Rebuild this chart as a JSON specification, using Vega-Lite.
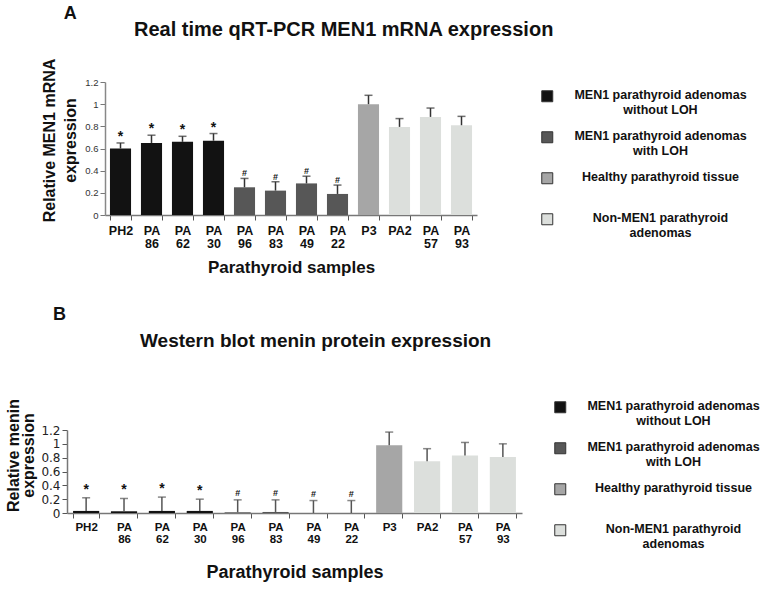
{
  "$schema": "https://vega.github.io/schema/vega-lite/v6.json",
  "background": "white",
  "padding": {"left": 5, "top": 5, "right": 5, "bottom": 5},
  "config": {
    "font": "Liberation Sans",
    "view": {"stroke": null},
    "title": {"font": "Liberation Sans", "fontWeight": "bold", "color": "#111"},
    "axisY": {"labelOverlap": false, "grid": false},
    "axisQuantitative": {"labelOverlap": false}
  },
  "datasets": {
    "mrna": [
      {"sample": "PH2", "group": "MEN1 parathyroid adenomas without LOH", "value": 0.6, "upper": 0.65, "sig": "*"},
      {"sample": "PA 86", "group": "MEN1 parathyroid adenomas without LOH", "value": 0.65, "upper": 0.72, "sig": "*"},
      {"sample": "PA 62", "group": "MEN1 parathyroid adenomas without LOH", "value": 0.66, "upper": 0.71, "sig": "*"},
      {"sample": "PA 30", "group": "MEN1 parathyroid adenomas without LOH", "value": 0.67, "upper": 0.735, "sig": "*"},
      {"sample": "PA 96", "group": "MEN1 parathyroid adenomas with LOH", "value": 0.25, "upper": 0.33, "sig": "#"},
      {"sample": "PA 83", "group": "MEN1 parathyroid adenomas with LOH", "value": 0.22, "upper": 0.3, "sig": "#"},
      {"sample": "PA 49", "group": "MEN1 parathyroid adenomas with LOH", "value": 0.285, "upper": 0.35, "sig": "#"},
      {"sample": "PA 22", "group": "MEN1 parathyroid adenomas with LOH", "value": 0.19, "upper": 0.27, "sig": "#"},
      {"sample": "P3", "group": "Healthy parathyroid tissue", "value": 1.0, "upper": 1.08, "sig": ""},
      {"sample": "PA2", "group": "Non-MEN1 parathyroid adenomas", "value": 0.795, "upper": 0.87, "sig": ""},
      {"sample": "PA 57", "group": "Non-MEN1 parathyroid adenomas", "value": 0.885, "upper": 0.965, "sig": ""},
      {"sample": "PA 93", "group": "Non-MEN1 parathyroid adenomas", "value": 0.81, "upper": 0.89, "sig": ""}
    ],
    "menin": [
      {"sample": "PH2", "group": "MEN1 parathyroid adenomas without LOH", "value": 0.03, "upper": 0.22, "sig": "*"},
      {"sample": "PA 86", "group": "MEN1 parathyroid adenomas without LOH", "value": 0.025, "upper": 0.21, "sig": "*"},
      {"sample": "PA 62", "group": "MEN1 parathyroid adenomas without LOH", "value": 0.03, "upper": 0.23, "sig": "*"},
      {"sample": "PA 30", "group": "MEN1 parathyroid adenomas without LOH", "value": 0.03, "upper": 0.2, "sig": "*"},
      {"sample": "PA 96", "group": "MEN1 parathyroid adenomas with LOH", "value": 0.01, "upper": 0.19, "sig": "#"},
      {"sample": "PA 83", "group": "MEN1 parathyroid adenomas with LOH", "value": 0.015, "upper": 0.19, "sig": "#"},
      {"sample": "PA 49", "group": "MEN1 parathyroid adenomas with LOH", "value": 0.0, "upper": 0.18, "sig": "#"},
      {"sample": "PA 22", "group": "MEN1 parathyroid adenomas with LOH", "value": 0.0, "upper": 0.18, "sig": "#"},
      {"sample": "P3", "group": "Healthy parathyroid tissue", "value": 0.98, "upper": 1.17, "sig": ""},
      {"sample": "PA2", "group": "Non-MEN1 parathyroid adenomas", "value": 0.75, "upper": 0.93, "sig": ""},
      {"sample": "PA 57", "group": "Non-MEN1 parathyroid adenomas", "value": 0.83, "upper": 1.02, "sig": ""},
      {"sample": "PA 93", "group": "Non-MEN1 parathyroid adenomas", "value": 0.81, "upper": 1.0, "sig": ""}
    ]
  },
  "spacing": 30,
  "resolve": {"scale": {"color": "independent", "x": "independent", "y": "independent"}},
  "vconcat": [
    {
      "title": {"text": "A", "anchor": "start", "fontSize": 18, "offset": -3, "dx": 22},
      "vconcat": [
        {
          "width": 410,
          "height": 133,
          "title": {"text": "Real time qRT-PCR MEN1 mRNA expression", "anchor": "start", "frame": "group", "dx": 67, "fontSize": 20, "baseline": "alphabetic", "offset": 2},
          "data": {"name": "mrna"},
          "encoding": {
            "x": {
              "field": "sample", "type": "nominal", "sort": null,
              "scale": {"range": [38, 410], "paddingInner": 0.32, "paddingOuter": 0.16},
              "axis": {
                "title": "Parathyroid samples", "titleFontSize": 17, "titleFontWeight": "bold", "titleColor": "#111", "titlePadding": 9,
                "labelAngle": 0, "labelFontSize": 12.5, "labelFontWeight": "bold", "labelColor": "#111", "labelLineHeight": 13.5,
                "labelBaseline": "top", "labelPadding": 4,
                "labelExpr": "split(datum.label, ' ')",
                "tickBand": "extent", "tickSize": 5, "tickColor": "#555", "domainColor": "#777", "domainWidth": 1.5
              }
            },
            "y": {
              "field": "value", "type": "quantitative", "scale": {"domain": [0, 1.2]},
              "axis": {
                "offset": -38,
                "title": ["Relative MEN1 mRNA", "expression"], "titleFontSize": 16, "titleFontWeight": "bold", "titleColor": "#111",
                "titleLineHeight": 21, "titlePadding": 6, "titleY": 58,
                "values": [0, 0.2, 0.4, 0.6, 0.8, 1, 1.2], "format": ".1~f", "labelOverlap": false,
                "labelFontSize": 9.5, "labelColor": "#333", "labelPadding": 2,
                "tickSize": 5, "tickColor": "#777", "domainColor": "#888", "domainWidth": 1.5, "grid": false
              }
            }
          },
          "layer": [
            {
              "mark": {"type": "bar"},
              "encoding": {
                "color": {
                  "field": "group", "type": "nominal",
                  "scale": {
                    "domain": ["MEN1 parathyroid adenomas without LOH", "MEN1 parathyroid adenomas with LOH", "Healthy parathyroid tissue", "Non-MEN1 parathyroid adenomas"],
                    "range": ["#121212", "#575757", "#a6a6a6", "#dcdfdc"]
                  },
                  "legend": {
                    "orient": "none", "legendX": 474, "legendY": 8, "title": null,
                    "symbolType": "square", "symbolSize": 121, "symbolStrokeColor": "#333", "symbolStrokeWidth": 1,
                    "labelFontSize": 12.5, "labelFontWeight": "bold", "labelColor": "#111",
                    "labelAlign": "center", "labelOffset": 107, "labelBaseline": "alphabetic", "labelLimit": 300,
                    "rowPadding": 12,
                    "encode": {"labels": {"update": {"dy": {"value": 3}}}},
                    "labelExpr": "datum.label == 'MEN1 parathyroid adenomas without LOH' ? ['MEN1 parathyroid adenomas', 'without LOH'] : datum.label == 'MEN1 parathyroid adenomas with LOH' ? ['MEN1 parathyroid adenomas', 'with LOH'] : datum.label == 'Non-MEN1 parathyroid adenomas' ? ['Non-MEN1 parathyroid', 'adenomas'] : [datum.label, '']"
                  }
                }
              }
            },
            {
              "mark": {"type": "rule", "color": "#333", "strokeWidth": 1.5},
              "encoding": {"y2": {"field": "upper"}}
            },
            {
              "mark": {"type": "tick", "size": 8, "thickness": 1.5, "color": "#333"},
              "encoding": {"y": {"field": "upper", "type": "quantitative"}}
            },
            {
              "mark": {"type": "text", "baseline": "alphabetic", "dy": -2, "fontWeight": "bold", "color": "#111"},
              "encoding": {
                "y": {"field": "upper", "type": "quantitative"},
                "text": {"field": "sig"},
                "size": {"condition": {"test": "datum.sig === '*'", "value": 14}, "value": 9}
              }
            }
          ]
        }
      ]
    },
    {
      "title": {"text": "B", "anchor": "start", "fontSize": 18, "offset": 8, "dx": 47},
      "vconcat": [
        {
          "width": 455,
          "height": 83,
          "title": {"text": "Western blot menin protein expression", "anchor": "start", "frame": "group", "dx": 73, "fontSize": 19, "baseline": "alphabetic", "offset": 33},
          "data": {"name": "menin"},
          "encoding": {
            "x": {
              "field": "sample", "type": "nominal", "sort": null,
              "scale": {"paddingInner": 0.31, "paddingOuter": 0.16},
              "axis": {
                "title": "Parathyroid samples", "titleFontSize": 18, "titleFontWeight": "bold", "titleColor": "#111", "titlePadding": 19,
                "labelAngle": 0, "labelFontSize": 11.5, "labelFontWeight": "bold", "labelColor": "#111", "labelLineHeight": 12,
                "labelBaseline": "top", "labelPadding": 3,
                "labelExpr": "split(datum.label, ' ')",
                "tickBand": "extent", "tickSize": 5, "tickColor": "#555", "domainColor": "#777", "domainWidth": 1.5
              }
            },
            "y": {
              "field": "value", "type": "quantitative", "scale": {"domain": [0, 1.2]},
              "axis": {
                "title": ["Relative menin", "expression"], "titleFontSize": 16, "titleFontWeight": "bold", "titleColor": "#111",
                "titleLineHeight": 15, "titlePadding": 4, "titleY": 25,
                "values": [0, 0.2, 0.4, 0.6, 0.8, 1, 1.2], "format": ".1~f", "labelOverlap": false,
                "labelFont": "DejaVu Sans", "labelFontSize": 12, "labelColor": "#222", "labelPadding": 2,
                "tickSize": 5, "tickColor": "#555", "domainColor": "#777", "domainWidth": 1.5, "grid": false
              }
            }
          },
          "layer": [
            {
              "mark": {"type": "bar"},
              "encoding": {
                "color": {
                  "field": "group", "type": "nominal",
                  "scale": {
                    "domain": ["MEN1 parathyroid adenomas without LOH", "MEN1 parathyroid adenomas with LOH", "Healthy parathyroid tissue", "Non-MEN1 parathyroid adenomas"],
                    "range": ["#121212", "#575757", "#a6a6a6", "#dcdfdc"]
                  },
                  "legend": {
                    "orient": "none", "legendX": 487, "legendY": -29, "title": null,
                    "symbolType": "square", "symbolSize": 121, "symbolStrokeColor": "#333", "symbolStrokeWidth": 1,
                    "labelFontSize": 12.5, "labelFontWeight": "bold", "labelColor": "#111",
                    "labelAlign": "center", "labelOffset": 107, "labelBaseline": "alphabetic", "labelLimit": 300,
                    "rowPadding": 12,
                    "encode": {"labels": {"update": {"dy": {"value": 3}}}},
                    "labelExpr": "datum.label == 'MEN1 parathyroid adenomas without LOH' ? ['MEN1 parathyroid adenomas', 'without LOH'] : datum.label == 'MEN1 parathyroid adenomas with LOH' ? ['MEN1 parathyroid adenomas', 'with LOH'] : datum.label == 'Non-MEN1 parathyroid adenomas' ? ['Non-MEN1 parathyroid', 'adenomas'] : [datum.label, '']"
                  }
                }
              }
            },
            {
              "mark": {"type": "rule", "color": "#555", "strokeWidth": 1.5},
              "encoding": {"y2": {"field": "upper"}}
            },
            {
              "mark": {"type": "tick", "size": 8, "thickness": 1.5, "color": "#555"},
              "encoding": {"y": {"field": "upper", "type": "quantitative"}}
            },
            {
              "mark": {"type": "text", "baseline": "alphabetic", "dy": -4, "fontWeight": "bold", "color": "#111"},
              "encoding": {
                "y": {"field": "upper", "type": "quantitative"},
                "text": {"field": "sig"},
                "size": {"condition": {"test": "datum.sig === '*'", "value": 14}, "value": 9}
              }
            }
          ]
        }
      ]
    }
  ]
}
